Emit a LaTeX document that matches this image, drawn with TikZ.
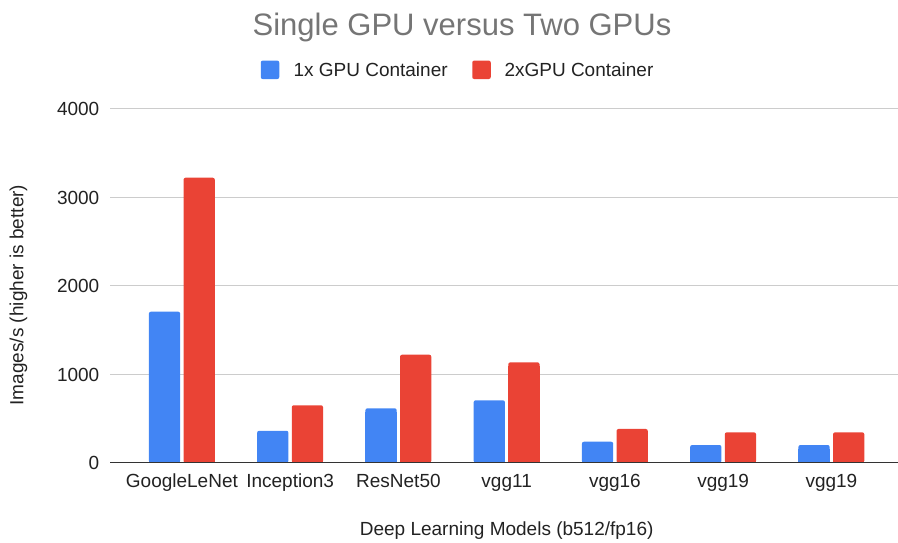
\documentclass[tikz,border=0pt]{standalone}
\usepackage{fontspec}
\setmainfont{Liberation Sans}
\definecolor{gblue}{HTML}{4285F4}
\definecolor{gred}{HTML}{EA4335}
\definecolor{titlegray}{HTML}{757575}
\definecolor{txt}{HTML}{222222}
\definecolor{gridc}{HTML}{CCCCCC}
\definecolor{basec}{HTML}{333333}
\begin{document}
\begin{tikzpicture}[x=1pt,y=-1pt,
  lbl/.style={font=\fontsize{19}{23}\selectfont, text=txt, inner sep=0pt},
  ttl/.style={font=\fontsize{31}{36}\selectfont, text=titlegray, inner sep=0pt},
  gridline/.style={draw=gridc, line width=1.3pt},
  baseline/.style={draw=basec, line width=1.5pt},
  legbox/.style={rounded corners=2pt, minimum size=18.5pt, inner sep=0pt, draw=none}]
\useasboundingbox (0,0) rectangle (898,542);
% title
\node[ttl, anchor=base] (title) at (462,35) {Single GPU versus Two GPUs};
% legend
\node[legbox, fill=gblue] (leg1) at (270,69.8) {};
\node[lbl, anchor=base west] (leg1t) at (293.3,76.7) {1x GPU Container};
\node[legbox, fill=gred] (leg2) at (481.5,69.8) {};
\node[lbl, anchor=base west] (leg2t) at (504.3,76.7) {2xGPU Container};
% grid and tick labels
\foreach \v [count=\k] in {1000,2000,3000,4000} {
  \pgfmathsetmacro\gy{462.7-0.0885*\v}
  \coordinate (gl\k) at (110,\gy);
  \coordinate (gr\k) at (898,\gy);
  \draw[gridline] (gl\k) -- (gr\k);
}
\foreach \v in {0,1000,2000,3000,4000} {
  \pgfmathsetmacro\gy{462.7-0.0885*\v+6.8}
  \node[lbl, anchor=base east] (tick\v) at (99.5,\gy) {\v};
}
% bars
\foreach \name/\a/\b [count=\i from 0] in {GoogleLeNet/1706/3220, Inception3/361/649, ResNet50/615/1220, vgg11/705/1134, vgg16/237/381, vgg19/200/343, vgg19/200/343} {
  \pgfmathsetmacro\c{181.9+108.25*\i}
  \pgfmathsetmacro\ya{462.7-0.0885*\a}
  \pgfmathsetmacro\yb{462.7-0.0885*\b}
  \fill[gblue, rounded corners=2pt] (\c-33,462.7) rectangle (\c-1.7,\ya);
  \fill[gblue] (\c-33,462.7) rectangle (\c-1.7,\ya+4);
  \fill[gred, rounded corners=2pt] (\c+1.6,462.7) rectangle (\c+32.9,\yb);
  \fill[gred] (\c+1.6,462.7) rectangle (\c+32.9,\yb+4);
  \node[lbl, anchor=base] (xl\i) at (\c,487.3) {\name};
}
% baseline
\coordinate (bl) at (110,462.7);
\coordinate (br) at (898,462.7);
\draw[baseline] (bl) -- (br);
% axis titles
\node[lbl, anchor=base] (xtitle) at (506.7,535) {Deep Learning Models (b512/fp16)};
\node[lbl, anchor=base, rotate=90] (ytitle) at (23.3,295) {Images/s (higher is better)};
\end{tikzpicture}
\end{document}
